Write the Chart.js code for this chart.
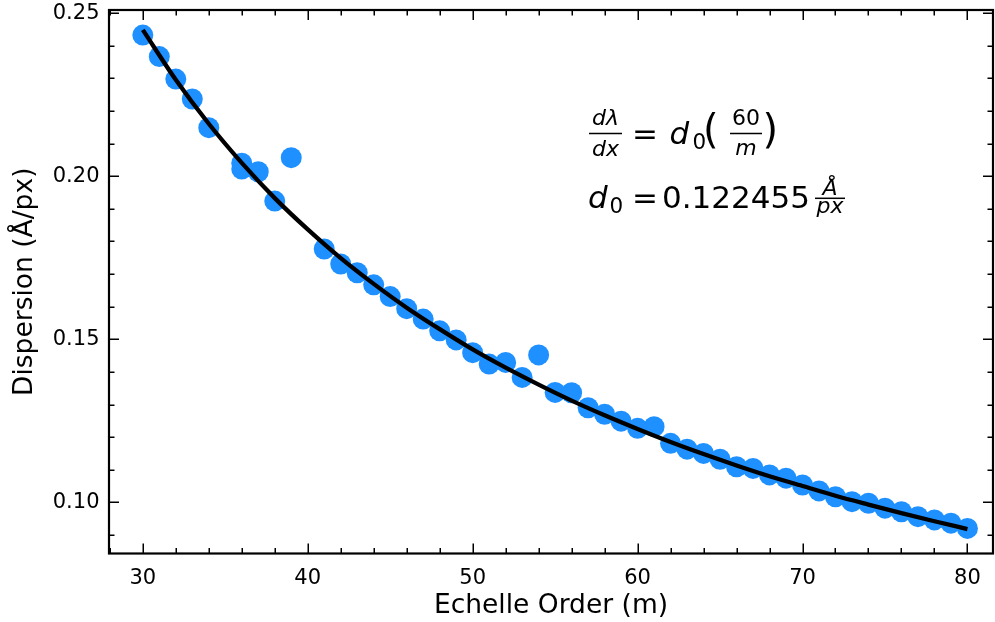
<!DOCTYPE html>
<html>
<head>
<meta charset="utf-8">
<script src="https://cdn.jsdelivr.net/npm/chart.js@4/dist/chart.umd.min.js"></script>
<style>
html,body{margin:0;padding:0;background:#fff;}
#wrap{width:995px;height:622px;}
</style>
</head>
<body>
<div id="wrap"><canvas id="c" width="995" height="622"></canvas></div>
<script>
// Measured points: echelle order and dispersion (Å/px)
const orders = [30,31,32,33,34,36,36,37,38,39,41,42,43,44,45,46,47,48,49,50,51,52,53,54,55,56,57,58,59,60,61,62,63,64,65,66,67,68,69,70,71,72,73,74,75,76,77,78,79,80];
const dispersion = [0.2433,0.2367,0.2298,0.2237,0.2149,0.2040,0.2022,0.2014,0.1924,0.2057,
  0.1777,0.1731,0.1704,0.1667,0.1631,0.1594,0.1562,0.1526,0.1498,0.1459,
  0.1424,0.1429,0.1383,0.1452,0.1337,0.1336,0.1290,0.1270,0.1249,0.1227,
  0.1232,0.1181,0.1163,0.1150,0.1132,0.1109,0.1104,0.1084,0.1074,0.1053,
  0.1035,0.1017,0.1002,0.0997,0.0982,0.0971,0.0956,0.0946,0.0936,0.0920];

// Fitted curve values
const fitOrders = [30,32,34,36,38,40,42,44,46,48,50,52,54,56,58,60,62,64,66,68,70,72,74,76,78,80];
const fitValues = [0.2449,0.2296,0.2161,0.2041,0.1933,0.1837,0.1749,0.1670,0.1597,0.1531,
  0.1469,0.1413,0.1361,0.1312,0.1267,0.1225,0.1185,0.1148,0.1113,0.1080,
  0.1050,0.1020,0.0993,0.0967,0.0942,0.0918];

// Axis ticks
const xMajorTicks = [30,40,50,60,70,80];
const xTickLabels = ['30','40','50','60','70','80'];
const xMinorTicks = [28,32,34,36,38,42,44,46,48,52,54,56,58,62,64,66,68,72,74,76,78];
const yMajorTicks = [0.10,0.15,0.20,0.25];
const yTickLabels = ['0.10','0.15','0.20','0.25'];
const yMinorTicks = [0.09,0.11,0.12,0.13,0.14,0.16,0.17,0.18,0.19,0.21,0.22,0.23,0.24];

const FONT = 'DejaVu Sans';

const framePlugin = {
  id: 'frame',
  afterDatasetsDraw(chart) {
    const {ctx, chartArea: a, scales: {x, y}} = chart;
    ctx.save();
    ctx.strokeStyle = '#000';
    ctx.lineCap = 'butt';
    const seg = (x1, y1, x2, y2) => { ctx.beginPath(); ctx.moveTo(x1, y1); ctx.lineTo(x2, y2); ctx.stroke(); };
    ctx.lineWidth = 1.5;
    const xt = (vals, len) => vals.forEach(v => {
      const p = Math.round(x.getPixelForValue(v)) + 0.25;
      seg(p, a.bottom, p, a.bottom - len);
      seg(p, a.top, p, a.top + len);
    });
    const yt = (vals, len) => vals.forEach(v => {
      const p = Math.round(y.getPixelForValue(v)) + 0.25;
      seg(a.left, p, a.left + len, p);
      seg(a.right, p, a.right - len, p);
    });
    xt(xMajorTicks, 10); xt(xMinorTicks, 5.5);
    yt(yMajorTicks, 10); yt(yMinorTicks, 5.5);
    ctx.lineWidth = 2.2;
    ctx.strokeRect(a.left, a.top, a.right - a.left, a.bottom - a.top);
    ctx.restore();
  },
  afterDraw(chart) {
    const ctx = chart.ctx;
    ctx.save();
    ctx.fillStyle = '#000';
    const txt = (s, px, py, size, italic, align) => {
      ctx.font = (italic ? 'italic ' : '') + size + 'px "' + FONT + '"';
      ctx.textAlign = align || 'left';
      ctx.textBaseline = 'alphabetic';
      ctx.fillText(s, px, py);
    };
    const bar = (x1, x2, py) => { ctx.fillRect(x1, py - 0.75, x2 - x1, 1.5); };
    // line 1: dλ/dx = d0(60/m)
    txt('dλ', 605.5, 125, 22, true, 'center');
    bar(589, 622, 133.5);
    txt('dx', 605.5, 156, 22, true, 'center');
    txt('=', 632, 143.5, 31, false);
    txt('d', 669.5, 143.5, 31, true);
    txt('0', 692.5, 148.5, 21.5, false);
    txt('(', 703, 142.5, 40, false);
    txt('60', 746, 125, 22, false, 'center');
    bar(730, 762, 133.5);
    txt('m', 746, 155, 22, true, 'center');
    txt(')', 762.5, 142.5, 40, false);
    // line 2: d0 = 0.122455 Å/px
    txt('d', 588, 208.3, 31, true);
    txt('0', 609.5, 213, 21.5, false);
    txt('=', 632, 208.3, 31, false);
    txt('0.122455', 662, 208.3, 31, false);
    txt('Å', 830, 195, 22, true, 'center');
    bar(815, 845, 198.3);
    txt('px', 830, 212.5, 22, true, 'center');
    ctx.restore();
  }
};

const pointData = orders.map((m, i) => ({x: m, y: dispersion[i]}));
const fitData = fitOrders.map((m, i) => ({x: m, y: fitValues[i]}));

new Chart(document.getElementById('c'), {
  type: 'scatter',
  data: {
    datasets: [
      {
        label: 'fit',
        data: fitData,
        showLine: true,
        borderColor: '#000000',
        borderWidth: 4.3,
        pointRadius: 0,
        cubicInterpolationMode: 'monotone',
        fill: false,
        order: 0
      },
      {
        label: 'data',
        data: pointData,
        backgroundColor: '#1E90FF',
        borderWidth: 0,
        pointRadius: 10.5,
        pointHoverRadius: 10.5,
        order: 1
      }
    ]
  },
  options: {
    responsive: false,
    animation: false,
    devicePixelRatio: 1,
    layout: {autoPadding: false, padding: {left: 0, right: 2, top: 10, bottom: 0}},
    plugins: {legend: {display: false}, tooltip: {enabled: false}},
    scales: {
      x: {
        type: 'linear',
        min: 27.95,
        max: 81.55,
        afterBuildTicks: s => { s.ticks = xMajorTicks.map(v => ({value: v})); },
        afterFit: s => { s.height = 68.5; s.paddingLeft = 0; s.paddingRight = 0; },
        grid: {display: false, drawTicks: false},
        border: {display: false},
        ticks: {
          padding: 12,
          color: '#000',
          font: {family: FONT, size: 21},
          maxRotation: 0,
          autoSkip: false,
          callback: (v) => xTickLabels[xMajorTicks.indexOf(v)]
        },
        title: {
          display: true,
          text: 'Echelle Order (m)',
          color: '#000',
          font: {family: FONT, size: 26.5},
          padding: {top: 0, bottom: 0}
        }
      },
      y: {
        type: 'linear',
        min: 0.0843,
        max: 0.251,
        afterBuildTicks: s => { s.ticks = yMajorTicks.map(v => ({value: v})); },
        afterFit: s => { s.width = 109; s.paddingTop = 0; s.paddingBottom = 0; },
        grid: {display: false, drawTicks: false},
        border: {display: false},
        ticks: {
          padding: 9.5,
          color: '#000',
          font: {family: FONT, size: 21},
          autoSkip: false,
          callback: (v) => yTickLabels[yMajorTicks.findIndex(t => Math.abs(t - v) < 1e-9)]
        },
        title: {
          display: true,
          text: 'Dispersion (Å/px)',
          color: '#000',
          font: {family: FONT, size: 26.5},
          padding: {top: 9, bottom: 0}
        }
      }
    }
  },
  plugins: [framePlugin]
});
</script>
</body>
</html>
